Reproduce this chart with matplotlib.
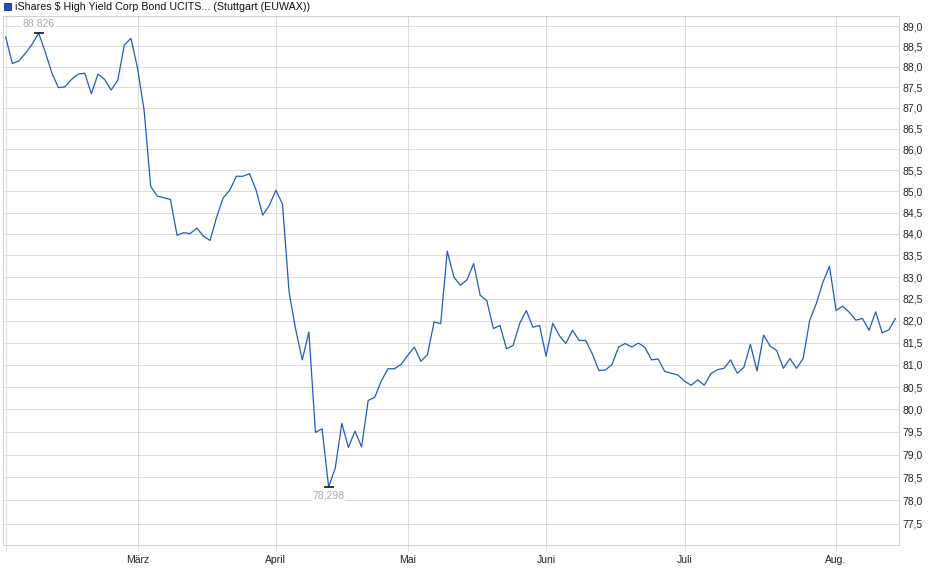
import numpy as np
import matplotlib
matplotlib.use('Agg')
import matplotlib.pyplot as plt
from matplotlib.patches import Rectangle
from matplotlib.ticker import FixedLocator, FuncFormatter, NullLocator

plt.rcParams['font.family'] = ['Liberation Sans', 'DejaVu Sans']

title = 'iShares $ High Yield Corp Bond UCITS... (Stuttgart (EUWAX))'

# daily closing prices, Feb - Aug
prices = [
    88.73, 88.08, 88.14, 88.33, 88.55, 88.826, 88.36, 87.85, 87.49, 87.51,
    87.69, 87.82, 87.84, 87.34, 87.82, 87.69, 87.43, 87.67, 88.53, 88.70,
    87.97, 86.94, 85.12, 84.89, 84.85, 84.81, 83.97, 84.03, 84.01, 84.14,
    83.95, 83.85, 84.39, 84.85, 85.03, 85.36, 85.36, 85.42, 85.03, 84.44,
    84.67, 85.03, 84.70, 82.65, 81.80, 81.11, 81.74, 79.49, 79.57, 78.298,
    78.70, 79.69, 79.16, 79.52, 79.17, 80.20, 80.27, 80.64, 80.91, 80.91,
    81.01, 81.21, 81.40, 81.08, 81.23, 81.97, 81.93, 83.60, 83.00, 82.81,
    82.94, 83.31, 82.58, 82.46, 81.82, 81.89, 81.36, 81.44, 81.94, 82.23,
    81.85, 81.89, 81.19, 81.94, 81.66, 81.48, 81.78, 81.55, 81.55, 81.25,
    80.87, 80.88, 81.01, 81.40, 81.48, 81.40, 81.49, 81.39, 81.11, 81.13,
    80.85, 80.81, 80.77, 80.63, 80.54, 80.66, 80.54, 80.80, 80.89, 80.92,
    81.11, 80.81, 80.94, 81.46, 80.86, 81.67, 81.42, 81.32, 80.92, 81.14,
    80.92, 81.14, 82.01, 82.39, 82.88, 83.25, 82.23, 82.33, 82.19, 82.01,
    82.05, 81.78, 82.20, 81.72, 81.79, 82.05,
]

# first trading day of each month (index into prices)
month_idx = [0, 20, 41, 61, 82, 103, 126]
month_labels = ['', 'März', 'April', 'Mai', 'Juni', 'Juli', 'Aug.']

y_ticks = np.arange(77.5, 89.01, 0.5)

line_col = '#1f5bc6'
grid_col = '#dcdcdc'
label_col = '#a9a9a9'

fig = plt.figure(figsize=(9.4, 5.79), dpi=100)
W, H = 940, 579
ax = fig.add_axes([3 / W, 1 - 545 / H, (898.7 - 3) / W, (545 - 16) / H])

x = np.arange(len(prices))
ax.plot(x, prices, color=line_col, lw=0.9, zorder=3)

ax.set_yscale('log')
ax.set_ylim(77.04, 89.25)
ax.set_xlim(-0.41, 135.5)

ax.yaxis.set_major_locator(FixedLocator(y_ticks))
ax.yaxis.set_minor_locator(NullLocator())
ax.yaxis.set_major_formatter(FuncFormatter(lambda v, p: f'{v:.1f}'.replace('.', ',')))
ax.yaxis.tick_right()
ax.tick_params(axis='y', length=0, pad=3, labelsize=7.5, colors='#222222')

ax.set_xticks(month_idx)
ax.set_xticklabels(month_labels)
ax.tick_params(axis='x', length=4, width=0.7, color=grid_col, pad=3,
               labelsize=7.5, labelcolor='#222222')

ax.grid(True, color=grid_col, lw=0.75, zorder=0)
for s in ax.spines.values():
    s.set_color('#d0d0d0')
    s.set_linewidth(0.75)

# high / low markers
hi = int(np.argmax(prices))
lo = int(np.argmin(prices))
for i, dy, va in [(hi, 3, 'bottom'), (lo, -3, 'top')]:
    ax.plot(i, prices[i], marker='_', color='black', ms=7, mew=1.1, zorder=4)
    ax.annotate(f'{prices[i]:.3f}'.replace('.', ','), (i, prices[i]),
                xytext=(0, dy), textcoords='offset points', ha='center', va=va,
                fontsize=7.5, color=label_col, zorder=5,
                bbox=dict(facecolor='white', edgecolor='none', pad=0.5))

# legend header
fig.patches.append(Rectangle((3.5 / W, 1 - 10 / H), 7 / W, 7 / H,
                             transform=fig.transFigure, facecolor='#1f4fb8',
                             edgecolor='#1a2a60', lw=0.6))
fig.text(15 / W, 1 - 6.5 / H, title, fontsize=7.7, color='#111111', va='center', ha='left')

fig.savefig('out.png', dpi=100, facecolor='white')
